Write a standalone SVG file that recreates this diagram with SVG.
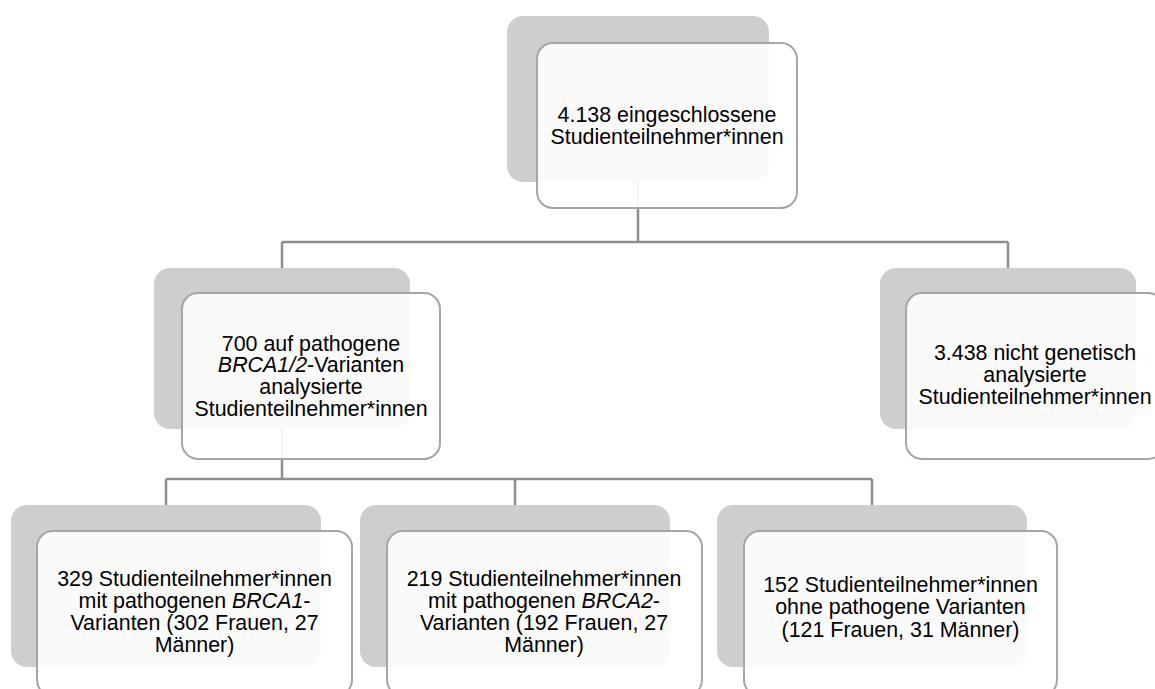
<svg xmlns="http://www.w3.org/2000/svg" width="1155" height="689" viewBox="0 0 1155 689">
  <style>
    .back { fill: #cfcecf; }
    .front { fill: #ffffff; fill-opacity: 0.9; stroke: #a6a6a6; stroke-width: 2; }
    .conn { fill: none; stroke: #8e8e8e; stroke-width: 2.5; }
    text { font-family: "Liberation Sans", Arial, sans-serif; font-size: 21.4px; fill: #000000; text-anchor: middle; }
    .it { font-style: italic; }
  </style>
  <rect width="1155" height="689" fill="#ffffff"/>

  <!-- connectors -->
  <g id="connectors">
    <path class="conn" d="M638 182 V242 M282 242 H1008 M282 242 V268 M1008 242 V268"/>
    <path class="conn" d="M282 429 V479 M166 479 H872 M166 479 V505 M515 479 V505 M872 479 V505"/>
  </g>

  <!-- root -->
  <g id="node-total">
    <rect class="back" x="507" y="16" width="262" height="166" rx="16"/>
    <rect class="front" x="537" y="43" width="260" height="165" rx="16"/>
    <text x="667" y="122">4.138 eingeschlossene</text>
    <text x="667" y="143.5">Studienteilnehmer*innen</text>
  </g>

  <!-- analysed -->
  <g id="node-analysed">
    <rect class="back" x="154" y="268" width="256" height="161" rx="16"/>
    <rect class="front" x="182" y="293" width="258" height="166" rx="16"/>
    <text x="311" y="350.5">700 auf pathogene</text>
    <text x="311" y="372.2"><tspan class="it">BRCA1/2</tspan>-Varianten</text>
    <text x="311" y="393.9">analysierte</text>
    <text x="311" y="415.6">Studienteilnehmer*innen</text>
  </g>

  <!-- not analysed -->
  <g id="node-not-analysed">
    <rect class="back" x="880" y="268" width="256" height="161" rx="16"/>
    <rect class="front" x="906" y="293" width="258" height="166" rx="16"/>
    <text x="1035" y="360.3">3.438 nicht genetisch</text>
    <text x="1035" y="382">analysierte</text>
    <text x="1035" y="403.7">Studienteilnehmer*innen</text>
  </g>

  <!-- BRCA1 carriers -->
  <g id="node-brca1">
    <rect class="back" x="11" y="505" width="310" height="162" rx="16"/>
    <rect class="front" x="37" y="531" width="315" height="165" rx="16"/>
    <text x="194.5" y="586">329 Studienteilnehmer*innen</text>
    <text x="194.5" y="608">mit pathogenen <tspan class="it">BRCA1</tspan>-</text>
    <text x="194.5" y="630">Varianten (302 Frauen, 27</text>
    <text x="194.5" y="652">Männer)</text>
  </g>

  <!-- BRCA2 carriers -->
  <g id="node-brca2">
    <rect class="back" x="360" y="505" width="310" height="162" rx="16"/>
    <rect class="front" x="387" y="531" width="315" height="165" rx="16"/>
    <text x="544" y="586">219 Studienteilnehmer*innen</text>
    <text x="544" y="608">mit pathogenen <tspan class="it">BRCA2</tspan>-</text>
    <text x="544" y="630">Varianten (192 Frauen, 27</text>
    <text x="544" y="652">Männer)</text>
  </g>

  <!-- no pathogenic variants -->
  <g id="node-none">
    <rect class="back" x="717" y="505" width="310" height="162" rx="16"/>
    <rect class="front" x="744" y="531" width="313" height="165" rx="16"/>
    <text x="900.5" y="592">152 Studienteilnehmer*innen</text>
    <text x="900.5" y="614">ohne pathogene Varianten</text>
    <text x="900.5" y="636.5">(121 Frauen, 31 Männer)</text>
  </g>
</svg>
